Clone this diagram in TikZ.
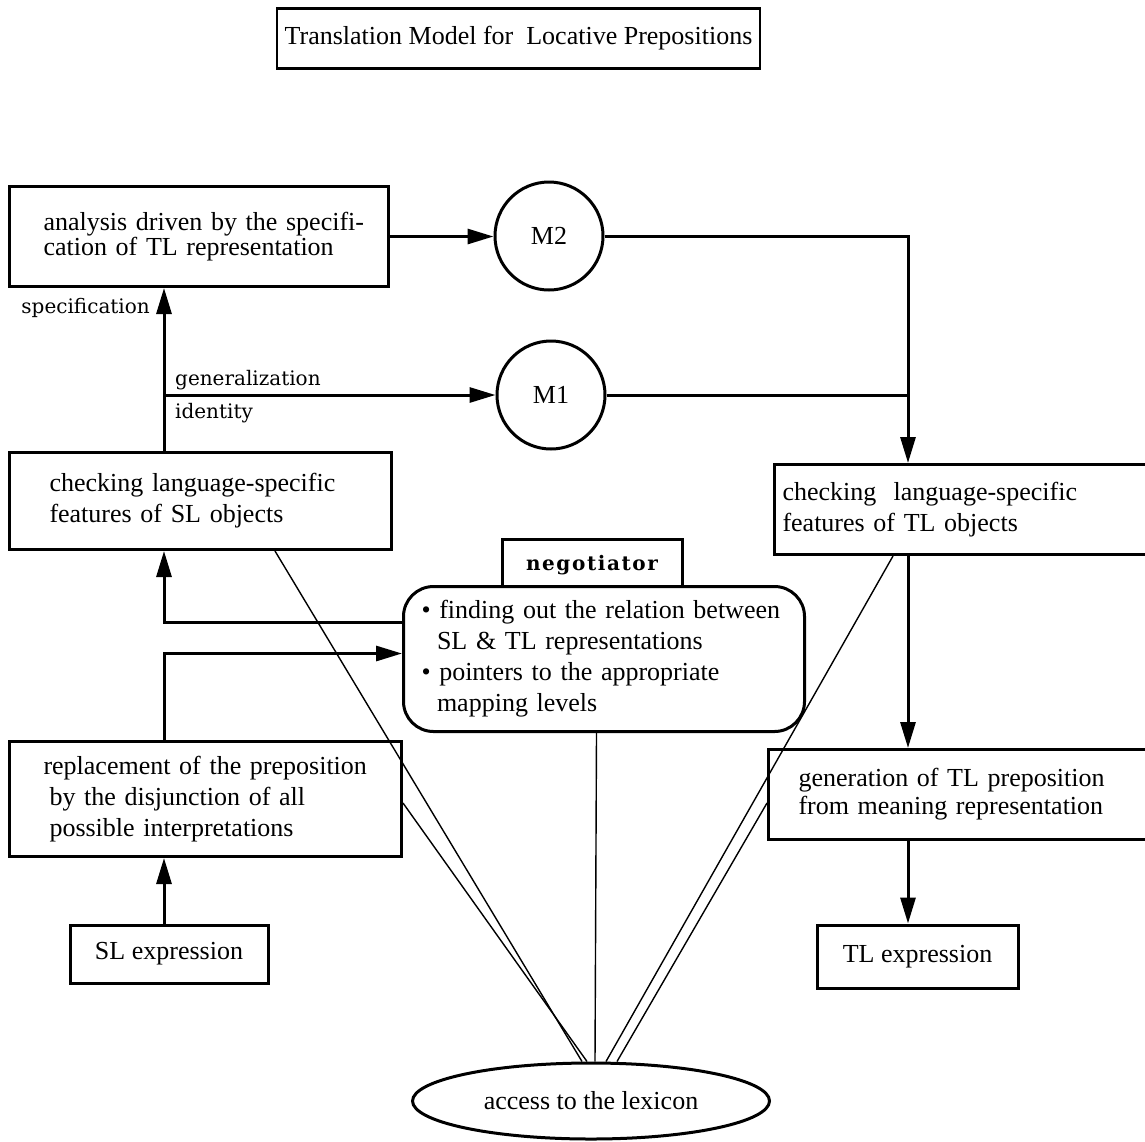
\documentclass[tikz,border=0pt]{standalone}
\usepackage{fontspec}
\setmainfont{Liberation Serif}
\newfontfamily\labelfont{DejaVu Serif}
\usetikzlibrary{arrows.meta,shapes.geometric,calc}
\begin{document}
\begin{tikzpicture}[x=1pt,y=-1pt,
  arr/.style={line width=3pt,-{Triangle[length=26pt,width=15pt]}},
  conn/.style={line width=3pt},
  lexline/.style={line width=1.4pt},
  boxnode/.style={draw,line width=3pt,anchor=north west,align=left,inner ysep=0pt},
  lbl/.style={inner sep=0pt,font=\labelfont\fontsize{20}{20}\selectfont},
  circ/.style={draw,circle,line width=3pt,minimum size=108pt,inner sep=0pt,font=\fontsize{26}{26}\selectfont}
]
\useasboundingbox (0,0) rectangle (1145,1141);

% title
\node[draw,line width=2.6pt,minimum width=483pt,minimum height=60pt,inner sep=0pt,
      font=\fontsize{26}{26}\selectfont] (title) at (518.5,38.5)
  {Translation Model for\ \ Locative Prepositions};

% boxes
\node[boxnode,inner xsep=34pt,text width=311pt,minimum height=100pt,
      font=\fontsize{26}{25}\selectfont] (A) at (8,185)
  {\mbox{analysis driven by the specifi-}\\\mbox{cation of TL representation}};
\node[boxnode,inner xsep=40pt,text width=302pt,minimum height=97pt,
      font=\fontsize{26}{31}\selectfont] (B) at (8,451)
  {\mbox{checking language-specific}\\\mbox{features of SL objects}};
\node[boxnode,inner xsep=8pt,text width=359pt,minimum height=90pt,
      font=\fontsize{26}{31}\selectfont] (C) at (773,463)
  {\mbox{checking\ \ language-specific}\\\mbox{features of TL objects}};
\node[boxnode,inner xsep=30pt,text width=321pt,minimum height=90pt,
      font=\fontsize{26}{28}\selectfont] (D) at (767,748)
  {\mbox{generation of TL preposition}\\\mbox{from meaning representation}};
\node[boxnode,inner xsep=34pt,text width=324pt,minimum height=115pt,
      font=\fontsize{26}{31}\selectfont] (R) at (8,740)
  {\mbox{replacement of the preposition}\\\hspace*{6pt}\mbox{by the disjunction of all}\\\hspace*{6pt}\mbox{possible interpretations}};
\node[draw,line width=3pt,minimum width=198pt,minimum height=58pt,inner sep=0pt,
      font=\fontsize{26}{26}\selectfont] (SL) at (169,954) {SL expression};
\node[draw,line width=3pt,minimum width=201pt,minimum height=63pt,inner sep=0pt,
      font=\fontsize{26}{26}\selectfont] (TL) at (917.5,956.5) {TL expression};

% circles
\node[circ] (M2) at (549,236) {M2};
\node[circ] (M1) at (551,395) {M1};

% negotiator
\node[draw,line width=3pt,minimum width=180pt,minimum height=52pt,inner sep=0pt,
      font=\labelfont\bfseries\addfontfeature{LetterSpace=8}\fontsize{20}{20}\selectfont] (neglabel) at (592,565) {negotiator};
\node[draw,fill=white,line width=3pt,rounded corners=30pt,anchor=north west,
      minimum height=145pt,inner xsep=18pt,inner ysep=0pt,text width=365pt,align=left,
      font=\fontsize{26}{31}\selectfont] (neg) at (402,585)
  {\mbox{\textbullet\ finding out the relation between}\\\hspace*{15.5pt}\mbox{SL \& TL representations}\\\mbox{\textbullet\ pointers to the appropriate}\\\hspace*{15.5pt}\mbox{mapping levels}};

% lexicon
\node[draw,ellipse,line width=3pt,minimum width=357pt,minimum height=76pt,inner sep=0pt,
      font=\fontsize{26}{26}\selectfont] (lex) at (591,1101) {access to the lexicon};

% labels
\node[lbl,anchor=base east] (spec) at (150,313) {specification};
\node[lbl,anchor=base west] (gen) at (175,385) {generalization};
\node[lbl,anchor=base west] (ident) at (175,418) {identity};

% helper verticals
\coordinate (vl) at (164,0);
\coordinate (vr) at (908,0);

% connectors
\draw[arr] (A.east) -- (A.east -| M2.west);
\draw[arr] (B.north -| vl) -- (A.south -| vl);
\draw[arr] (vl |- M1) -- (M1.west);
\draw[arr] (M2.east) -| (C.north -| vr);
\draw[conn] (M1.east) -- (M1.east -| vr);
\draw[arr] (C.south -| vr) -- (D.north -| vr);
\draw[arr] (D.south -| vr) -- (TL.north -| vr);
\draw[arr] (SL.north -| vl) -- (R.south -| vl);
\draw[arr] ([yshift=36.5pt]neg.west) -| (B.south -| vl);
\draw[arr] (R.north -| vl) |- ([yshift=5.5pt]neg.west);

% lines to lexicon
\draw[lexline] ($(B.south west)+(267,0)$) -- ($(lex.north)+(-9,0)$);
\draw[lexline] ($(R.north east)+(0,63)$) -- ($(lex.north)+(-4,0)$);
\draw[lexline] ($(neg.south)+(-7.5,0)$) -- ($(lex.north)+(4,0)$);
\draw[lexline] ($(C.south west)+(120,0)$) -- ($(lex.north)+(15,0)$);
\draw[lexline] ($(D.north west)+(0,55)$) -- ($(lex.north)+(26,0)$);
\end{tikzpicture}
\end{document}
